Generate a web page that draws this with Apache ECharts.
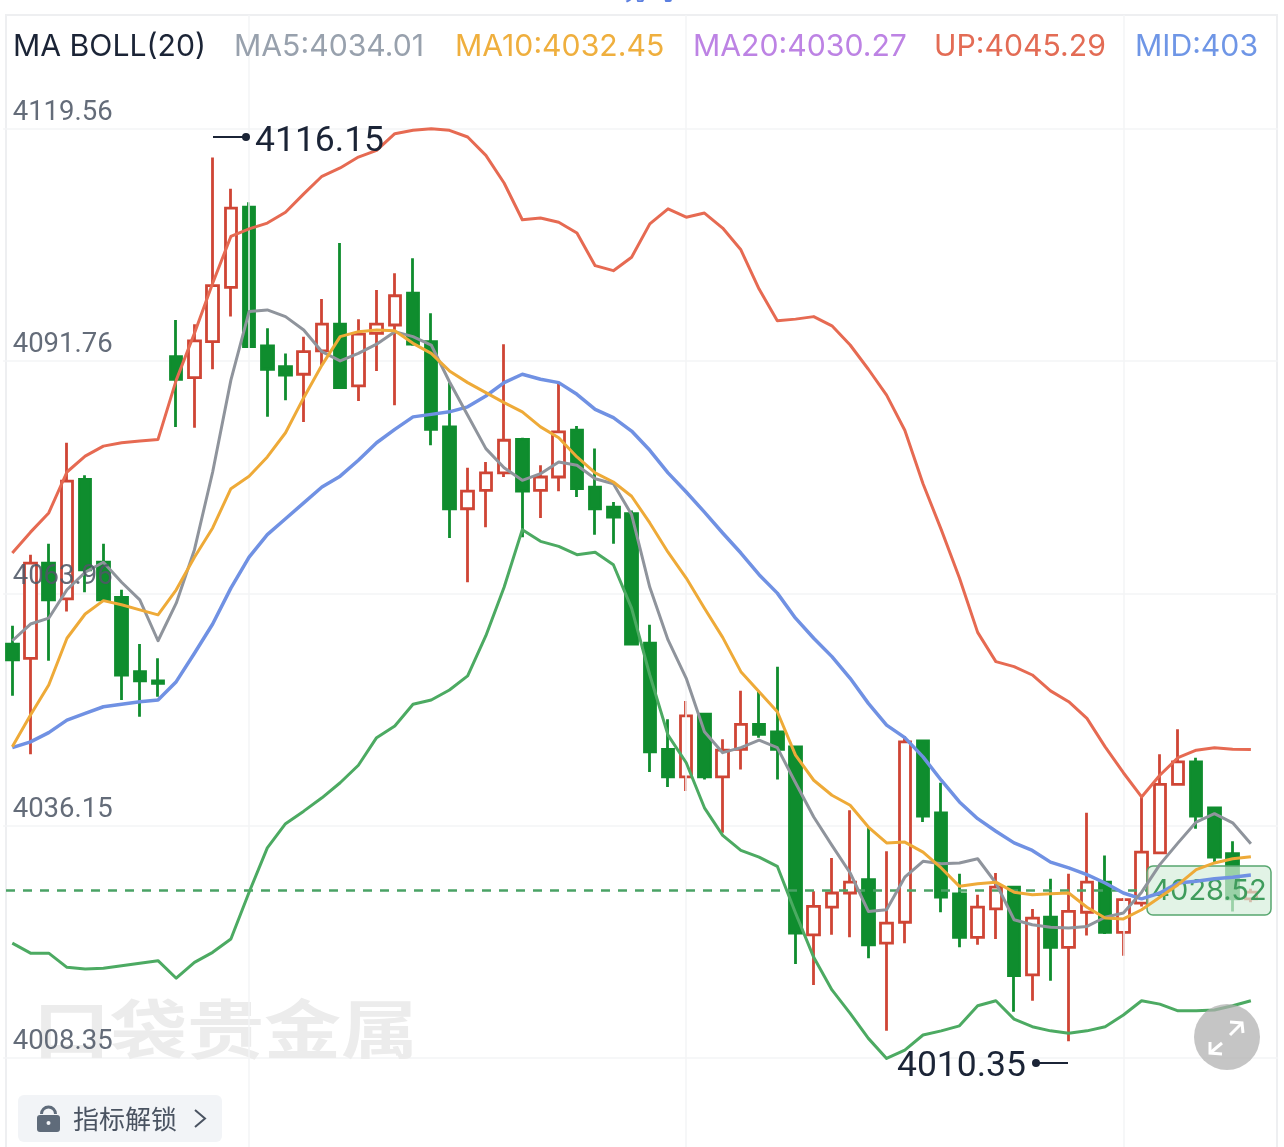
<!DOCTYPE html>
<html>
<head>
<meta charset="utf-8">
<style>html,body{margin:0;padding:0;background:#fff}#c{width:1284px;height:1147px}</style>
<script src="https://cdn.jsdelivr.net/npm/echarts@6/dist/echarts.min.js"></script>
</head>
<body>
<div id="c"></div>
<script>
// [open, close, low, high]
const ohlc = [
[4057.9,4056.0,4051.7,4060.1],[4056.2,4067.6,4044.7,4068.6],[4067.6,4063.2,4055.9,4069.9],[4063.3,4077.4,4061.8,4082.0],
[4077.6,4066.8,4064.1,4078.1],[4067.7,4063.2,4063.2,4069.9],[4063.5,4054.2,4051.2,4064.4],[4054.6,4053.5,4049.2,4057.9],
[4053.5,4053.2,4051.6,4056.2],[4092.3,4089.6,4083.9,4096.7],[4089.8,4094.2,4083.8,4096.2],[4094.1,4100.8,4090.8,4116.15],
[4100.6,4110.1,4097.1,4112.4],[4110.2,4093.5,4093.5,4110.8],[4093.6,4090.8,4085.1,4095.7],[4091.1,4090.1,4087.1,4092.7],
[4090.2,4092.9,4084.5,4094.7],[4093.0,4096.2,4091.3,4099.2],[4096.2,4088.6,4088.6,4105.9],[4088.8,4095.0,4087.0,4096.8],
[4095.1,4096.2,4090.6,4100.3],[4096.1,4099.6,4086.5,4102.3],[4099.9,4093.8,4093.6,4104.1],[4094.1,4083.6,4081.7,4097.5],
[4083.9,4074.1,4070.6,4089.2],[4074.1,4076.2,4065.3,4079.0],[4076.3,4078.4,4071.9,4079.7],[4078.4,4082.3,4077.9,4093.8],
[4082.4,4076.2,4070.7,4082.6],[4076.3,4077.9,4073.0,4079.3],[4077.9,4083.3,4076.2,4089.2],[4083.5,4076.5,4075.5,4084.0],
[4076.7,4074.1,4071.0,4081.3],[4074.3,4073.1,4069.9,4074.9],[4073.5,4057.9,4057.9,4073.9],[4058.0,4045.0,4042.6,4060.2],
[4045.3,4042.0,4040.8,4048.9],[4042.0,4049.3,4040.3,4051.1],[4049.5,4042.0,4041.7,4049.5],[4042.0,4045.2,4035.3,4046.5],
[4045.3,4048.3,4042.9,4052.3],[4048.3,4047.1,4046.7,4052.2],[4047.4,4045.3,4041.7,4055.2],[4045.6,4023.3,4019.6,4045.7],
[4023.1,4026.5,4017.1,4028.3],[4026.4,4028.1,4023.1,4032.3],[4028.1,4029.4,4022.8,4038.0],[4029.7,4021.9,4020.3,4036.0],
[4022.1,4024.5,4011.6,4033.1],[4024.6,4046.2,4022.1,4046.9],[4046.3,4037.3,4036.6,4046.4],[4037.7,4027.6,4025.8,4041.3],
[4028.0,4022.8,4021.6,4030.4],[4022.8,4026.4,4021.9,4027.9],[4026.2,4028.8,4022.6,4030.5],[4028.8,4018.2,4013.9,4028.8],
[4018.3,4025.1,4015.2,4026.2],[4025.2,4021.6,4017.6,4029.8],[4021.6,4025.9,4010.35,4030.4],[4025.8,4029.4,4023.0,4037.7],
[4029.4,4023.4,4023.2,4032.6],[4023.4,4027.3,4020.6,4027.5],[4026.9,4033.0,4026.5,4039.6],[4032.9,4041.1,4032.9,4044.7],
[4041.1,4043.8,4041.1,4047.7],[4043.8,4037.3,4035.8,4044.3],[4038.3,4032.4,4031.7,4038.3],[4032.8,4027.4,4025.9,4034.3],
[4027.4,4028.2,4027.0,4028.6]
];
const bollUp = [4068.8,4071.3,4073.6,4078.5,4080.4,4081.6,4082.0,4082.2,4082.4,4089.5,4095.1,4101.1,4106.7,4107.6,4108.3,4109.6,4111.8,4113.9,4114.9,4116.2,4117.0,4119.0,4119.4,4119.6,4119.4,4118.6,4116.4,4113.1,4108.7,4108.9,4108.4,4107.1,4103.2,4102.6,4104.2,4108.2,4110.0,4109.0,4109.5,4107.7,4105.1,4100.4,4096.6,4096.8,4097.1,4096.0,4093.7,4090.8,4087.7,4083.5,4077.1,4071.6,4065.8,4059.3,4055.8,4055.2,4054.2,4052.3,4051.0,4049.0,4045.6,4042.5,4039.6,4042.2,4044.3,4045.2,4045.5,4045.3,4045.29];
const bollMid = [4045.5,4046.2,4047.3,4048.8,4049.6,4050.4,4050.7,4051.0,4051.2,4053.4,4056.8,4060.3,4064.6,4068.3,4071.0,4072.9,4074.8,4076.7,4078.0,4079.9,4082.0,4083.6,4085.1,4085.4,4085.7,4086.3,4087.6,4089.2,4090.2,4089.6,4089.2,4087.8,4086.0,4085.0,4083.4,4081.1,4078.4,4076.1,4073.7,4071.2,4068.8,4066.2,4064.0,4061.0,4058.6,4056.4,4053.8,4050.8,4048.2,4046.7,4044.4,4041.6,4039.0,4037.0,4035.5,4034.1,4033.2,4031.8,4031.1,4030.3,4029.3,4028.1,4027.4,4028.1,4029.3,4029.5,4029.8,4030.0,4030.27];
const bollLow = [4022.1,4020.9,4020.9,4019.2,4019.0,4019.1,4019.4,4019.7,4020.0,4017.9,4019.8,4021.0,4022.6,4028.2,4033.5,4036.4,4037.9,4039.5,4041.3,4043.4,4046.7,4048.1,4050.7,4051.2,4052.4,4054.1,4058.9,4064.7,4071.6,4070.2,4069.6,4068.6,4068.9,4067.4,4062.2,4054.2,4047.0,4043.7,4038.3,4035.0,4033.2,4032.4,4031.3,4025.7,4020.4,4016.5,4013.7,4010.7,4008.3,4009.3,4011.1,4011.6,4012.2,4014.6,4015.2,4013.0,4012.1,4011.6,4011.3,4011.6,4012.1,4013.5,4015.2,4014.8,4014.0,4014.0,4014.1,4014.6,4015.2];
const ma5 = [4058.3,4060.3,4061.0,4064.4,4066.5,4067.7,4065.3,4063.2,4058.3,4062.8,4069.2,4078.5,4089.5,4097.7,4097.9,4097.1,4095.5,4092.9,4091.8,4092.7,4093.8,4095.3,4094.7,4093.7,4089.3,4085.3,4081.3,4079.0,4077.5,4078.3,4079.7,4079.3,4077.7,4077.1,4073.4,4064.7,4058.4,4053.8,4047.4,4044.9,4045.5,4046.4,4045.5,4041.3,4037.2,4033.8,4030.5,4025.9,4026.1,4030.0,4031.9,4031.6,4031.7,4032.2,4029.3,4024.9,4024.3,4024.0,4023.9,4024.1,4025.2,4025.7,4028.2,4031.5,4034.1,4036.6,4037.6,4036.5,4034.01];
const ma10 = [4045.6,4049.4,4053.0,4058.6,4061.5,4063.1,4062.6,4062.0,4061.4,4064.4,4068.3,4071.8,4076.5,4078.0,4080.3,4083.2,4087.4,4091.3,4094.7,4095.3,4095.5,4095.4,4093.9,4092.7,4090.6,4089.2,4088.0,4086.8,4085.7,4083.9,4082.6,4080.3,4078.4,4077.3,4075.6,4072.4,4068.9,4065.8,4062.2,4058.7,4054.6,4052.2,4049.8,4044.6,4041.6,4039.8,4038.6,4036.0,4034.1,4034.2,4033.0,4031.1,4028.9,4029.2,4029.4,4028.2,4027.9,4028.0,4028.1,4026.4,4025.1,4025.0,4026.1,4027.6,4029.1,4030.9,4031.7,4032.2,4032.45];
const yTicks = [4008.35,4036.15,4063.96,4091.76,4119.56];
const verticalGridAt = [13,37,61];
const lastPrice = 4028.4;
const lastPriceText = '4028.52';
const highText = '4116.15';
const lowText = '4010.35';
const headerTexts = ['MA BOLL(20)','MA5:4034.01','MA10:4032.45','MA20:4030.27','UP:4045.29','MID:403'];
const categories = Array.from({length: ohlc.length + 1}, (_, i) => String(i));

const FONT = 'Inter, "Noto Sans CJK SC", sans-serif';
const NUMFONT = 'Roboto, sans-serif';
const INK = '#1b2436';
const chart = echarts.init(document.getElementById('c'), null, {renderer: 'canvas'});

const headerX = [13,234,455,693,934,1135];
const headerColor = [INK,'#98a1ad','#efaf3e','#bd83e4','#e36c55','#6f96e6'];
const header = headerTexts.map((t, i) => ({
  type: 'text', x: headerX[i], y: 47, z: 20,
  style: {text: t, font: '30.2px ' + FONT, fill: headerColor[i], textVerticalAlign: 'middle'}
}));

const graphic = [
  {type:'rect', z:0, silent:true, shape:{x:6,y:15,width:1271,height:1140},
   style:{fill:'none', stroke:'#eeeff1', lineWidth:2}},
  {type:'text', x:33, y:1029, z:1, silent:true, scaleX:1, scaleY:0.82,
   style:{text:'口袋贵金属', font:'700 77px "Noto Sans CJK SC"', fill:'#ececec', textVerticalAlign:'middle'}},
  ...header,
  // high marker
  {type:'line', z:20, shape:{x1:213,y1:137,x2:244,y2:137}, style:{stroke:INK,lineWidth:2}},
  {type:'circle', z:20, shape:{cx:246,cy:137,r:4}, style:{fill:INK}},
  {type:'text', z:20, x:255, y:142, style:{text:highText, font:'35.5px '+NUMFONT, fill:INK, textVerticalAlign:'middle'}},
  // low marker
  {type:'line', z:20, shape:{x1:1037,y1:1063,x2:1068,y2:1063}, style:{stroke:INK,lineWidth:2}},
  {type:'circle', z:20, shape:{cx:1036,cy:1063,r:4}, style:{fill:INK}},
  {type:'text', z:20, x:1026, y:1067, style:{text:lowText, font:'35.5px '+NUMFONT, fill:INK, textAlign:'right', textVerticalAlign:'middle'}},
  // price tag
  {type:'rect', z:3, shape:{x:1147,y:866,width:124,height:49,r:6},
   style:{fill:'rgba(214,238,220,0.7)', stroke:'#57a66f', lineWidth:1.5}},
  {type:'text', z:4, x:1209, y:891, style:{text:lastPriceText, font:'29px '+FONT, fill:'#3f9c5c', textAlign:'center', textVerticalAlign:'middle'}},
  // unlock button
  {type:'rect', z:20, shape:{x:18,y:1095,width:204,height:47,r:6}, style:{fill:'#f2f4f7'}},
  {type:'rect', z:21, shape:{x:37,y:1115,width:23,height:17,r:3}, style:{fill:'#5f6b7a'}},
  {type:'arc', z:21, shape:{cx:48.5,cy:1114,r:7,startAngle:Math.PI,endAngle:0,clockwise:true}, style:{stroke:'#5f6b7a',fill:'none',lineWidth:3}},
  {type:'circle', z:22, shape:{cx:48.5,cy:1123,r:2}, style:{fill:'#f2f4f7'}},
  {type:'text', z:21, x:73, y:1119, style:{text:'指标解锁', font:'26px "Noto Sans CJK SC"', fill:'#4a5361', textVerticalAlign:'middle'}},
  {type:'polyline', z:21, shape:{points:[[195,1110],[205,1118.5],[195,1127]]}, style:{stroke:'#4a5361',fill:'none',lineWidth:2}},
  // expand button
  {type:'circle', z:20, shape:{cx:1227,cy:1037,r:33}, style:{fill:'rgba(175,175,175,0.72)'}},
  {type:'polyline', z:21, shape:{points:[[1230,1022],[1242,1023],[1243,1033]]}, style:{stroke:'#fff',fill:'none',lineWidth:3}},
  {type:'line', z:21, shape:{x1:1230,y1:1035,x2:1242,y2:1023}, style:{stroke:'#fff',lineWidth:3}},
  {type:'polyline', z:21, shape:{points:[[1210,1042],[1210,1053],[1222,1054]]}, style:{stroke:'#fff',fill:'none',lineWidth:3}},
  {type:'line', z:21, shape:{x1:1222,y1:1043,x2:1210,y2:1053}, style:{stroke:'#fff',lineWidth:3}},
  // clipped text at the very top edge
  {type:'text', z:20, x:650, y:-23, style:{text:'分时', font:'26px "Noto Sans CJK SC"', fill:'#5b7fe0', textAlign:'center'}}
];

const lineSeries = (name, data, color, width) => ({
  name, type:'line', data, z:5, symbol:'none', smooth:false, animation:false, silent:true,
  lineStyle:{color, width, join:'round'}
});

chart.setOption({
  animation:false,
  backgroundColor:'#fff',
  graphic,
  grid:{left:3.2, right:5.8, top:15, bottom:0},
  xAxis:{type:'category', data:categories, boundaryGap:true, axisLine:{show:false}, axisTick:{show:false}, axisLabel:{show:false}, splitLine:{show:false}},
  yAxis:[
    {type:'value', min:3997.696, max:4133.207, z:0, axisLine:{show:false},
     axisTick:{show:false, customValues:yTicks}, axisLabel:{show:false},
     splitLine:{show:true, lineStyle:{color:'#f3f4f6', width:1.5}}},
    {type:'value', min:3997.696, max:4133.207, position:'left', z:10, axisLine:{show:false},
     axisTick:{show:false, customValues:yTicks}, splitLine:{show:false},
     axisLabel:{show:true, inside:true, customValues:yTicks, margin:9.5, color:'rgba(78,88,102,0.88)',
       fontFamily:'Roboto', fontSize:27.5, align:'left', verticalAlign:'bottom', padding:[0,0,2,0],
       formatter:v=>v.toFixed(2)}}
  ],
  series:[
    {type:'line', data:[], z:0, silent:true, symbol:'none',
     markLine:{silent:true, symbol:'none', label:{show:false}, animation:false,
       lineStyle:{color:'#f3f4f6', width:1.5, type:'solid'},
       data:verticalGridAt.map(i=>({xAxis:i}))}},
    {type:'candlestick', data:ohlc, z:2, barWidth:12, silent:true, animation:false,
     itemStyle:{color:'#ffffff', color0:'#0f8d2e', borderColor:'#cf4535', borderColor0:'#0f8d2e', borderWidth:2.8},
     markLine:{silent:true, symbol:'none', label:{show:false}, animation:false,
       lineStyle:{color:'#4aa265', width:2.5, type:[9,8]},
       data:[[{x:6, xAxis:0, yAxis:lastPrice},{x:1147, xAxis:0, yAxis:lastPrice}]]}},
    lineSeries('UP', bollUp, '#e66a52', 3),
    lineSeries('LOW', bollLow, '#4caa62', 3),
    lineSeries('MID', bollMid, '#7091e3', 3.5),
    lineSeries('MA5', ma5, '#8f949c', 3),
    lineSeries('MA10', ma10, '#eeaa38', 3)
  ]
});
</script>
</body>
</html>
